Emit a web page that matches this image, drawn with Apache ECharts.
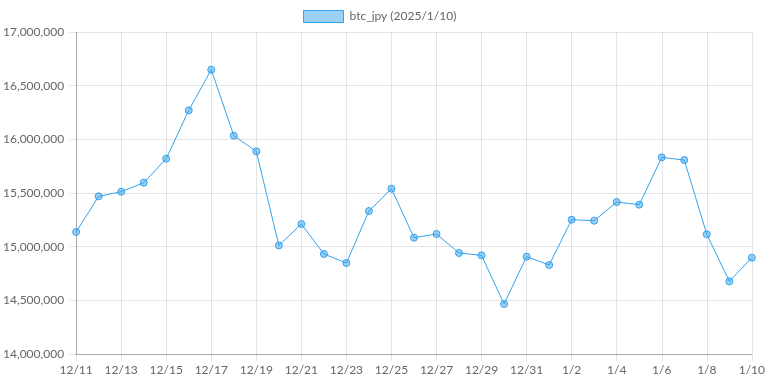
<!DOCTYPE html>
<html>
<head>
<meta charset="utf-8">
<script src="https://cdn.jsdelivr.net/npm/echarts@6/dist/echarts.min.js"></script>
<style>html,body{margin:0;padding:0;background:#fff;}#c{width:768px;height:384px;}</style>
</head>
<body>
<div id="c"></div>
<script>
const seriesName = 'btc_jpy (2025/1/10)';
const categories = ['12/11','12/12','12/13','12/14','12/15','12/16','12/17','12/18','12/19','12/20','12/21','12/22','12/23','12/24','12/25','12/26','12/27','12/28','12/29','12/30','12/31','1/1','1/2','1/3','1/4','1/5','1/6','1/7','1/8','1/9','1/10'];
const values = [15137000,15469000,15512000,15596000,15820000,16270000,16649000,16034000,15888000,15012000,15211000,14932000,14848000,15332000,15540000,15084000,15118000,14941000,14919000,14466000,14907000,14829000,15251000,15242000,15416000,15391000,15832000,15807000,15115000,14677000,14897000];
const yMin = 14000000, yMax = 17000000, yStep = 500000;

const chart = echarts.init(document.getElementById('c'));
const font = 'Lato';
chart.setOption({
  animation: false,
  textStyle: {fontFamily: font},
  legend: {
    top: 10, left: 303, padding: 0,
    icon: 'rect', itemWidth: 40, itemHeight: 12, itemGap: 10,
    textStyle: {color: '#666', fontSize: 12, fontFamily: font, padding: [0, 0, 0, 1]},
    itemStyle: {color: 'rgba(54,162,235,0.5)', borderColor: '#36a2eb', borderWidth: 1},
    data: [seriesName]
  },
  grid: {left: 74, right: 16, top: 32, bottom: 30, containLabel: false},
  xAxis: {
    type: 'category', data: categories, boundaryGap: false,
    axisLine: {show: true, lineStyle: {color: 'rgba(0,0,0,0.25)'}},
    axisTick: {show: true, interval: 1, length: 7, lineStyle: {color: 'rgba(0,0,0,0.1)'}},
    axisLabel: {interval: 1, color: '#666', fontSize: 12, margin: 10, fontFamily: font},
    splitLine: {show: true, interval: 1, lineStyle: {color: 'rgba(0,0,0,0.1)'}}
  },
  yAxis: {
    type: 'value', min: yMin, max: yMax, interval: yStep,
    axisLine: {show: true, lineStyle: {color: 'rgba(0,0,0,0.25)'}},
    axisTick: {show: true, length: 7, lineStyle: {color: 'rgba(0,0,0,0.1)'}},
    axisLabel: {color: '#666', fontSize: 12, margin: 12, fontFamily: font,
      formatter: v => v.toLocaleString('en-US')},
    splitLine: {show: true, lineStyle: {color: 'rgba(0,0,0,0.1)'}}
  },
  series: [{
    name: seriesName, type: 'line', data: values,
    symbol: 'circle', symbolSize: 7, showSymbol: true,
    lineStyle: {color: '#36a2eb', width: 1},
    itemStyle: {color: 'rgba(54,162,235,0.5)', borderColor: '#36a2eb', borderWidth: 1}
  }]
});
</script>
</body>
</html>
